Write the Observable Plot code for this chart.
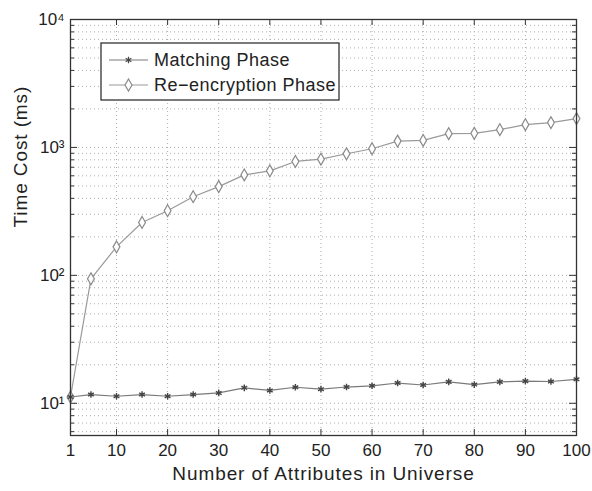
<!DOCTYPE html>
<html><head><meta charset="utf-8">
<script src="https://cdn.jsdelivr.net/npm/d3@7"></script>
<script src="https://cdn.jsdelivr.net/npm/@observablehq/plot@0.6"></script>
<style>html,body{margin:0;padding:0;background:#fff;} #chart svg{display:block;}</style>
</head><body><div id="chart"></div>
<script>
const attributes = [1,5,10,15,20,25,30,35,40,45,50,55,60,65,70,75,80,85,90,95,100];
const matchingPhase = [11.2,11.7,11.35,11.7,11.35,11.7,12.05,13.2,12.6,13.35,12.9,13.4,13.7,14.4,13.9,14.7,14.0,14.7,14.9,14.8,15.4];
const reencryptionPhase = [11.2,94,167,259,320,412,494,610,656,777,810,892,977,1121,1135,1281,1290,1377,1507,1563,1680];
const xTicks = [1,10,20,30,40,50,60,70,80,90,100];
const yTicks = [10,100,1000,10000];
const yTickLabels = ["10¹","10²","10³","10⁴"];
const seriesNames = ["Matching Phase","Re\u2212encryption Phase"];
const xLabel = "Number of Attributes in Universe";
const yLabel = "Time Cost (ms)";

const W = 592, H = 491;
const mL = 70, mR = 16, mT = 19, mB = 56;
const iw = W - mL - mR, ih = H - mT - mB;
const yDomain = [5.6, 10000];

const minorY = [];
for (let k = 0; k <= 3; k++) for (let m = 2; m <= 9; m++) {
  const v = m * Math.pow(10, k);
  if (v >= yDomain[0] && v <= yDomain[1]) minorY.push(v);
}

const matching = attributes.map((a, i) => ({x: a, y: matchingPhase[i]}));
const reenc = attributes.map((a, i) => ({x: a, y: reencryptionPhase[i]}));

const font = "'Liberation Sans', Arial, Helvetica, sans-serif";
const gridStyle = {stroke: "#adadad", strokeDasharray: "1,3", strokeWidth: 1};
const axisColor = "#333";

function legendMark(index, scales, values, dims) {
  const g = d3.create("svg:g").attr("font-family", font).attr("text-anchor", "start");
  const x0 = dims.marginLeft + 31, y0 = dims.marginTop + 24;
  g.append("rect").attr("x", x0).attr("y", y0).attr("width", 238).attr("height", 57)
    .attr("fill", "white").attr("stroke", "#222").attr("stroke-width", 1.2);
  const rows = [
    {name: seriesNames[0], cy: y0 + 17, line: "#7a7a7a", sym: d3.symbolAsterisk, size: 30, stroke: "#444", fill: "none"},
    {name: seriesNames[1], cy: y0 + 42, line: "#9a9a9a", sym: d3.symbolDiamond, size: 42, stroke: "#8a8a8a", fill: "white"}
  ];
  for (const r of rows) {
    g.append("line").attr("x1", x0 + 8).attr("x2", x0 + 47).attr("y1", r.cy).attr("y2", r.cy)
      .attr("stroke", r.line).attr("stroke-width", 1.2);
    g.append("path").attr("d", d3.symbol(r.sym, r.size)()).attr("transform", `translate(${x0 + 27.5},${r.cy})`)
      .attr("stroke", r.stroke).attr("fill", r.fill).attr("stroke-width", 1.2);
    g.append("text").attr("x", x0 + 53).attr("y", r.cy).attr("dy", "0.35em")
      .attr("text-anchor", "start").attr("font-size", 18).attr("letter-spacing", "0.5px")
      .attr("fill", "#222").text(r.name);
  }
  return g.node();
}

const chart = Plot.plot({
  width: W, height: H,
  marginLeft: mL, marginRight: mR, marginTop: mT, marginBottom: mB,
  style: {fontFamily: font, background: "white"},
  x: {domain: [1, 100]},
  y: {type: "log", domain: yDomain},
  marks: [
    Plot.ruleY(minorY, {y: d => d, ...gridStyle}),
    Plot.ruleY(yTicks, {y: d => d, ...gridStyle}),
    Plot.ruleX(xTicks.filter(d => d > 1 && d < 100), {x: d => d, ...gridStyle}),
    Plot.line(reenc, {x: "x", y: "y", stroke: "#9a9a9a", strokeWidth: 1.2}),
    Plot.line(matching, {x: "x", y: "y", stroke: "#7a7a7a", strokeWidth: 1.2}),
    Plot.dot(reenc, {x: "x", y: "y", symbol: "diamond", r: 3.6, stroke: "#8a8a8a", fill: "white", strokeWidth: 1.2}),
    Plot.dot(matching, {x: "x", y: "y", symbol: "asterisk", r: 3.1, stroke: "#444", strokeWidth: 1.4}),
    Plot.ruleY(yTicks, {y: d => d, stroke: axisColor, insetRight: iw - 7}),
    Plot.ruleY(yTicks, {y: d => d, stroke: axisColor, insetLeft: iw - 7}),
    Plot.ruleY(minorY, {y: d => d, stroke: axisColor, insetRight: iw - 4}),
    Plot.ruleY(minorY, {y: d => d, stroke: axisColor, insetLeft: iw - 4}),
    Plot.ruleX(xTicks, {x: d => d, stroke: axisColor, insetTop: ih - 6}),
    Plot.ruleX(xTicks, {x: d => d, stroke: axisColor, insetBottom: ih - 6}),
    Plot.frame({stroke: axisColor, strokeWidth: 1.3}),
    Plot.axisY(yTicks, {anchor: "left", tickSize: 0, tickPadding: 6, fontSize: 17, fill: "#222",
      tickFormat: d => yTickLabels[yTicks.indexOf(d)], label: null}),
    Plot.axisX(xTicks, {anchor: "bottom", tickSize: 0, tickPadding: 8, fontSize: 17, fill: "#222",
      tickFormat: d => String(d), label: null}),
    Plot.text([yLabel], {text: d => d, frameAnchor: "left", dx: -50, rotate: -90, fontSize: 19, fill: "#222",
      style: "letter-spacing:0.6px"}),
    Plot.text([xLabel], {text: d => d, frameAnchor: "bottom", dy: 44, fontSize: 19, fill: "#222"}),
    legendMark
  ]
});
// widen axis labels slightly to match reference letter spacing
d3.select(chart).selectAll("text").filter(function() {
  return this.textContent === xLabel || this.textContent === yLabel;
}).attr("letter-spacing", "0.9px");
document.getElementById("chart").appendChild(chart);
</script>
</body></html>
